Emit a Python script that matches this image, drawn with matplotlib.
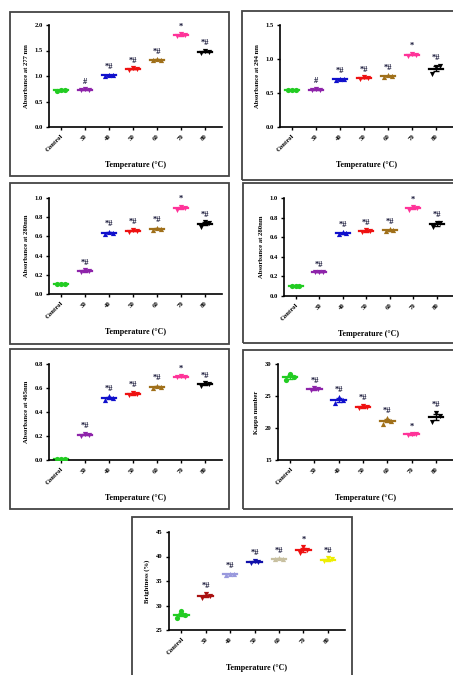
import matplotlib
matplotlib.use('Agg')
import matplotlib.pyplot as plt
import matplotlib.ticker as mticker
import numpy as np
from matplotlib.patches import Rectangle

plt.rcParams['font.family'] = 'Liberation Serif'
plt.rcParams['font.weight'] = 'bold'

# groups on the x axis
groups = ['Control', '30', '40', '50', '60', '70', '80']

# three replicates per group for each measurement
abs277 = [[0.71, 0.72, 0.72], [0.72, 0.74, 0.73], [1.00, 1.02, 1.01], [1.12, 1.15, 1.14],
          [1.31, 1.33, 1.32], [1.78, 1.82, 1.80], [1.45, 1.50, 1.48]]
abs294 = [[0.54, 0.54, 0.54], [0.54, 0.56, 0.55], [0.69, 0.71, 0.70], [0.71, 0.73, 0.72],
          [0.74, 0.76, 0.75], [1.05, 1.08, 1.06], [0.78, 0.88, 0.90]]
abs280a = [[0.10, 0.10, 0.10], [0.23, 0.25, 0.24], [0.63, 0.65, 0.64], [0.65, 0.67, 0.66],
           [0.67, 0.69, 0.68], [0.88, 0.91, 0.90], [0.70, 0.75, 0.74]]
abs280b = [[0.10, 0.10, 0.10], [0.24, 0.24, 0.24], [0.63, 0.65, 0.64], [0.65, 0.67, 0.66],
           [0.66, 0.68, 0.67], [0.88, 0.91, 0.90], [0.70, 0.75, 0.74]]
abs465 = [[0.01, 0.01, 0.01], [0.20, 0.22, 0.21], [0.50, 0.53, 0.52], [0.54, 0.56, 0.55],
          [0.60, 0.62, 0.61], [0.69, 0.70, 0.69], [0.62, 0.64, 0.63]]
kappa = [[27.5, 28.5, 28.0], [25.9, 26.2, 26.1], [23.9, 24.8, 24.4], [23.1, 23.5, 23.3],
         [20.7, 21.5, 21.1], [18.9, 19.1, 19.0], [21.0, 22.4, 21.8]]
bright = [[27.5, 28.8, 28.1], [31.6, 32.4, 32.0], [36.3, 36.5, 36.4], [38.7, 39.1, 38.9],
          [39.4, 39.7, 39.5], [40.7, 41.9, 41.3], [39.0, 39.7, 39.4]]

marks_a = ['', '#', '*#', '*#', '*#', '*', '*#']
marks_b = ['', '*#', '*#', '*#', '*#', '*', '*#']

cols1 = ['#22cc22', '#8e24aa', '#1010cc', '#ee1111', '#a0701a', '#ff3399', '#000000']
cols2 = ['#22cc22', '#aa1111', '#9999dd', '#1010aa', '#c8c0a0', '#ee1111', '#eeee00']
markers = ['o', 'v', '^', 'v', '^', 'v', 'v']

W, H = 453, 675
fig = plt.figure(figsize=(W / 100, H / 100), dpi=100)


def px(x0, y0, x1, y1):
    return [x0 / W, 1 - y1 / H, (x1 - x0) / W, (y1 - y0) / H]


def panel(frame, box, data, ylim, yticks, ylabel, cols, marks, fmt):
    fig.patches.append(Rectangle((frame[0] / W, 1 - frame[3] / H),
                                 (frame[2] - frame[0]) / W, (frame[3] - frame[1]) / H,
                                 transform=fig.transFigure, fill=False,
                                 edgecolor='#444444', lw=1.3))
    ax = fig.add_axes(px(*box))
    x = np.arange(len(groups))
    span = ylim[1] - ylim[0]
    for i, reps in enumerate(data):
        reps = np.array(reps)
        m = reps.mean()
        se = reps.std(ddof=1) / np.sqrt(len(reps))
        ax.scatter(x[i] + np.array([-0.16, 0, 0.16]), reps, s=14, color=cols[i],
                   marker=markers[i], zorder=3, linewidths=0)
        ax.plot([x[i] - 0.3, x[i] + 0.3], [m, m], color=cols[i], lw=1.6, zorder=2)
        ax.errorbar(x[i], m, yerr=se, color=cols[i], capsize=2.5, lw=1.0, zorder=2)
        if marks[i]:
            ax.text(x[i], reps.max() + 0.035 * span, marks[i], ha='center', va='bottom',
                    fontsize=6, color='#111133', fontweight='bold')
    ax.set_ylim(*ylim)
    ax.set_yticks(yticks)
    ax.yaxis.set_major_formatter(mticker.FormatStrFormatter(fmt))
    ax.set_xlim(-0.5, len(groups) - 0.3)
    ax.set_xticks(x)
    ax.set_xticklabels(groups, rotation=45, ha='right', rotation_mode='anchor')
    ax.spines['top'].set_visible(False)
    ax.spines['right'].set_visible(False)
    for s in ('left', 'bottom'):
        ax.spines[s].set_linewidth(1.2)
    ax.tick_params(labelsize=4.8, length=2.5, width=1, pad=2)
    ax.set_ylabel(ylabel, fontsize=4.8, fontweight='bold')
    ax.set_xlabel('Temperature (°C)', fontsize=5.8, fontweight='bold', labelpad=6)
    return ax


panel((10, 12, 229, 176), (49, 25, 222, 127), abs277, (0, 2.0), [0, 0.5, 1.0, 1.5, 2.0],
      'Absorbance at 277 nm', cols1, marks_a, '%.1f')
panel((242, 11, 456, 180), (280, 25, 453, 127), abs294, (0, 1.5), [0, 0.5, 1.0, 1.5],
      'Absorbance at 294 nm', cols1, marks_a, '%.1f')
panel((10, 183, 229, 344), (49, 198, 222, 294), abs280a, (0, 1.0), [0, 0.2, 0.4, 0.6, 0.8, 1.0],
      'Absorbance at 280nm', cols1, marks_b, '%.1f')
panel((243, 183, 456, 343), (284, 198, 453, 296), abs280b, (0, 1.0), [0, 0.2, 0.4, 0.6, 0.8, 1.0],
      'Absorbance at 280nm', cols1, marks_b, '%.1f')
panel((10, 349, 229, 509), (49, 364, 222, 460), abs465, (0, 0.8), [0, 0.2, 0.4, 0.6, 0.8],
      'Absorbance at 465nm', cols1, marks_b, '%.1f')
panel((243, 350, 456, 509), (278, 364, 453, 460), kappa, (15, 30), [15, 20, 25, 30],
      'Kappa number', cols1, marks_b, '%d')
panel((132, 517, 352, 677), (169, 532, 345, 630), bright, (25, 45), [25, 30, 35, 40, 45],
      'Brightness (%)', cols2, marks_b, '%d')

fig.savefig('out.png', dpi=100)
